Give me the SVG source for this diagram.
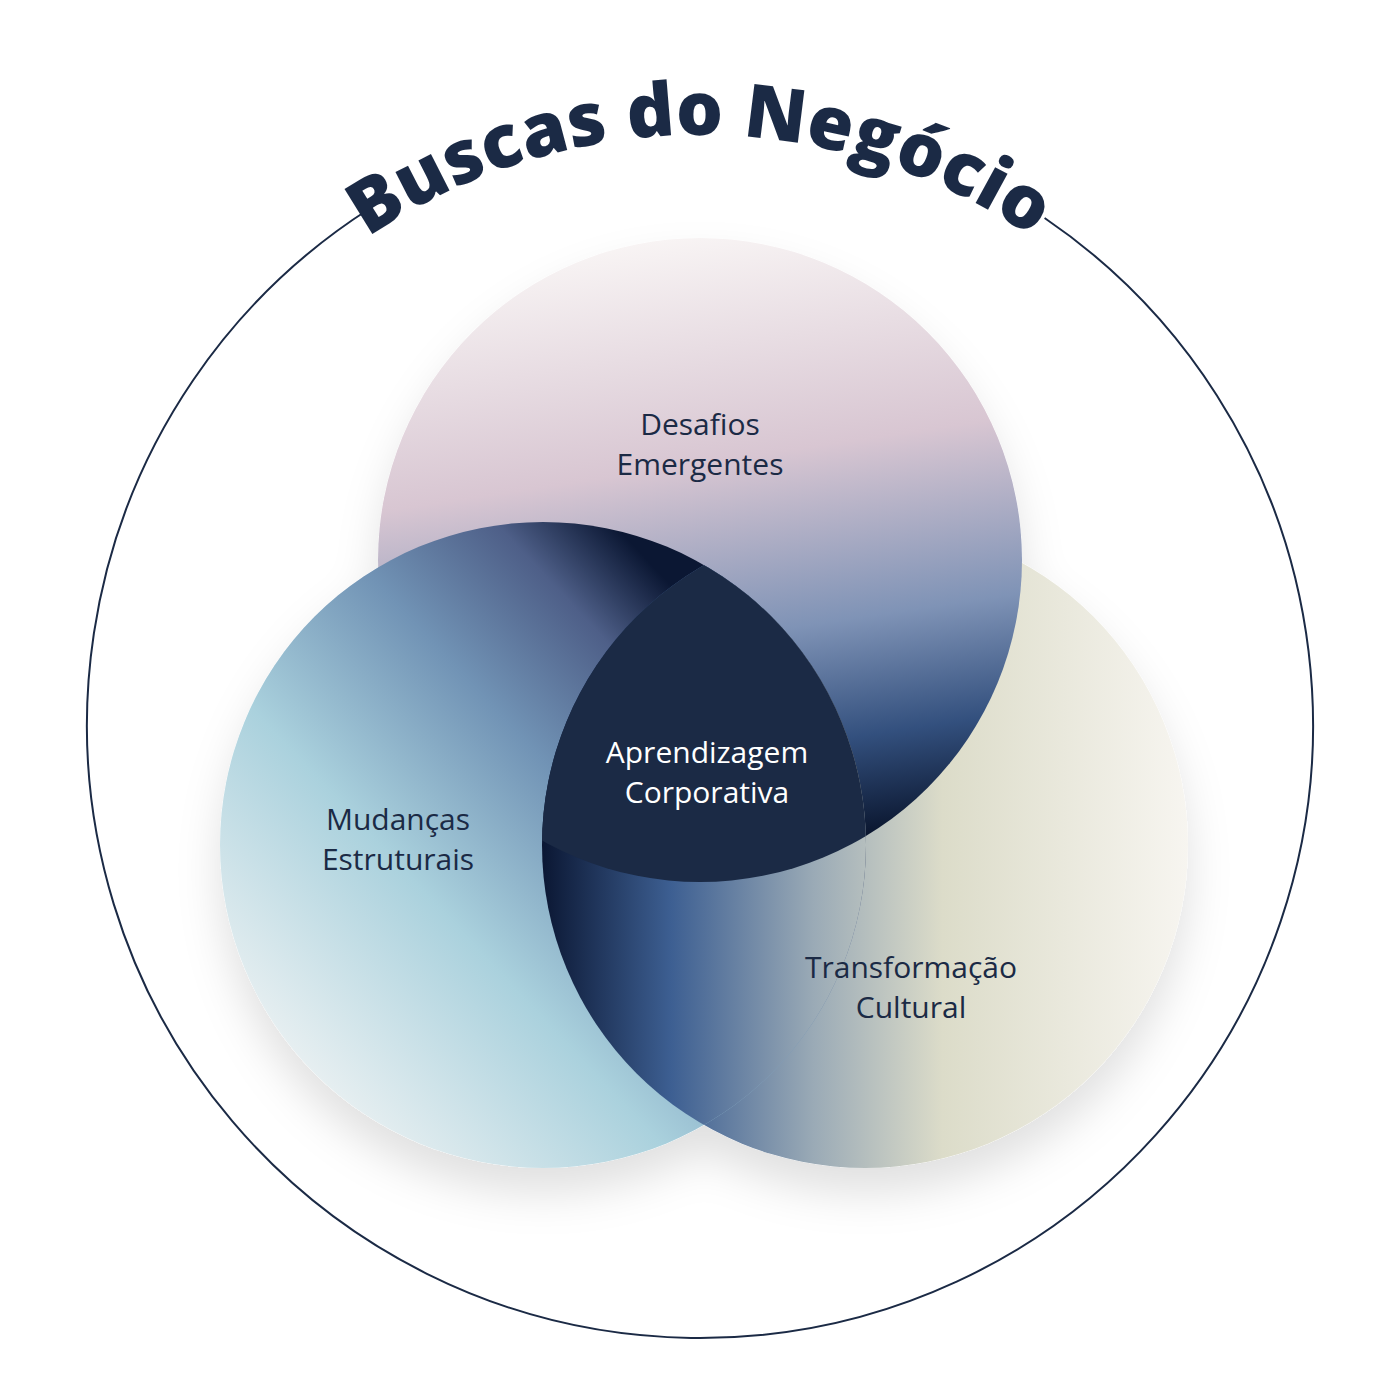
<svg xmlns="http://www.w3.org/2000/svg" width="1400" height="1400" viewBox="0 0 1400 1400">
<style>
.lbl{font-family:"Open Sans","Liberation Sans",sans-serif;font-size:30px;font-weight:500;fill:#1b2a45;text-anchor:middle}
.wht{fill:#ffffff}
.ttl{font-family:"Open Sans","Liberation Sans",sans-serif;font-size:74px;font-weight:800;fill:#1b2a45}
</style>
<defs>
<linearGradient id="gTop" x1="0.45" y1="0" x2="0.6" y2="1">
<stop offset="0" stop-color="#f8f4f4"/><stop offset="0.35" stop-color="#d8c6d2"/><stop offset="0.62" stop-color="#7f93b6"/><stop offset="0.8" stop-color="#33507e"/><stop offset="0.95" stop-color="#0b1730"/>
</linearGradient>
<linearGradient id="gLeft" x1="0.05" y1="0.85" x2="0.85" y2="0.1">
<stop offset="0" stop-color="#f3f5f5"/><stop offset="0.35" stop-color="#aad1dd"/><stop offset="0.6" stop-color="#7193b5"/><stop offset="0.78" stop-color="#4e5f88"/><stop offset="0.9" stop-color="#0b1733"/>
</linearGradient>
<linearGradient id="gRight" x1="0" y1="0.5" x2="1" y2="0.5">
<stop offset="0" stop-color="#0b1733"/><stop offset="0.2" stop-color="#3d5f92"/><stop offset="0.42" stop-color="#9aaab6"/><stop offset="0.62" stop-color="#dcdcc9"/><stop offset="1" stop-color="#f7f5f0"/>
</linearGradient>
<clipPath id="cLeft"><circle cx="543" cy="845" r="323"/></clipPath>
<clipPath id="cTop"><circle cx="700" cy="560" r="322"/></clipPath>
<clipPath id="cRight"><circle cx="865" cy="845" r="323"/></clipPath>
<filter id="sh" x="-20%" y="-20%" width="140%" height="150%">
<feDropShadow dx="0" dy="25" stdDeviation="22" flood-color="#000" flood-opacity="0.12"/>
</filter>
</defs>
<path d="M 370.6 208 A 613 613 0 1 0 1044.6 218" fill="none" stroke="#1b2a45" stroke-width="2"/>
<path id="arc" d="M 110 725 A 590 590 0 0 1 1290 725" fill="none"/>
<text class="ttl"><textPath href="#arc" startOffset="50%" text-anchor="middle">Buscas do Negócio</textPath></text>
<g id="shadows" filter="url(#sh)">
<circle cx="865" cy="845" r="323" fill="#fff"/>
<circle cx="700" cy="560" r="322" fill="#fff"/>
<circle cx="543" cy="845" r="323" fill="#fff"/>
</g>
<g id="right"><circle cx="865" cy="845" r="323" fill="url(#gRight)"/></g>
<g id="top"><circle cx="700" cy="560" r="322" fill="url(#gTop)"/></g>
<g id="left"><circle cx="543" cy="845" r="323" fill="url(#gLeft)"/></g>
<g id="right-over-left" clip-path="url(#cLeft)"><circle cx="865" cy="845" r="323" fill="url(#gRight)"/></g>
<g id="center" clip-path="url(#cLeft)"><g clip-path="url(#cTop)"><circle cx="865" cy="845" r="323" fill="#1b2a45"/></g></g>
<g id="labels">
<text class="lbl" x="700" y="435">Desafios</text>
<text class="lbl" x="700" y="475">Emergentes</text>
<text class="lbl" x="398" y="830">Mudanças</text>
<text class="lbl" x="398" y="870">Estruturais</text>
<text class="lbl wht" x="707" y="763">Aprendizagem</text>
<text class="lbl wht" x="707" y="803">Corporativa</text>
<text class="lbl" x="911" y="978">Transformação</text>
<text class="lbl" x="911" y="1018">Cultural</text>
</g>
</svg>
